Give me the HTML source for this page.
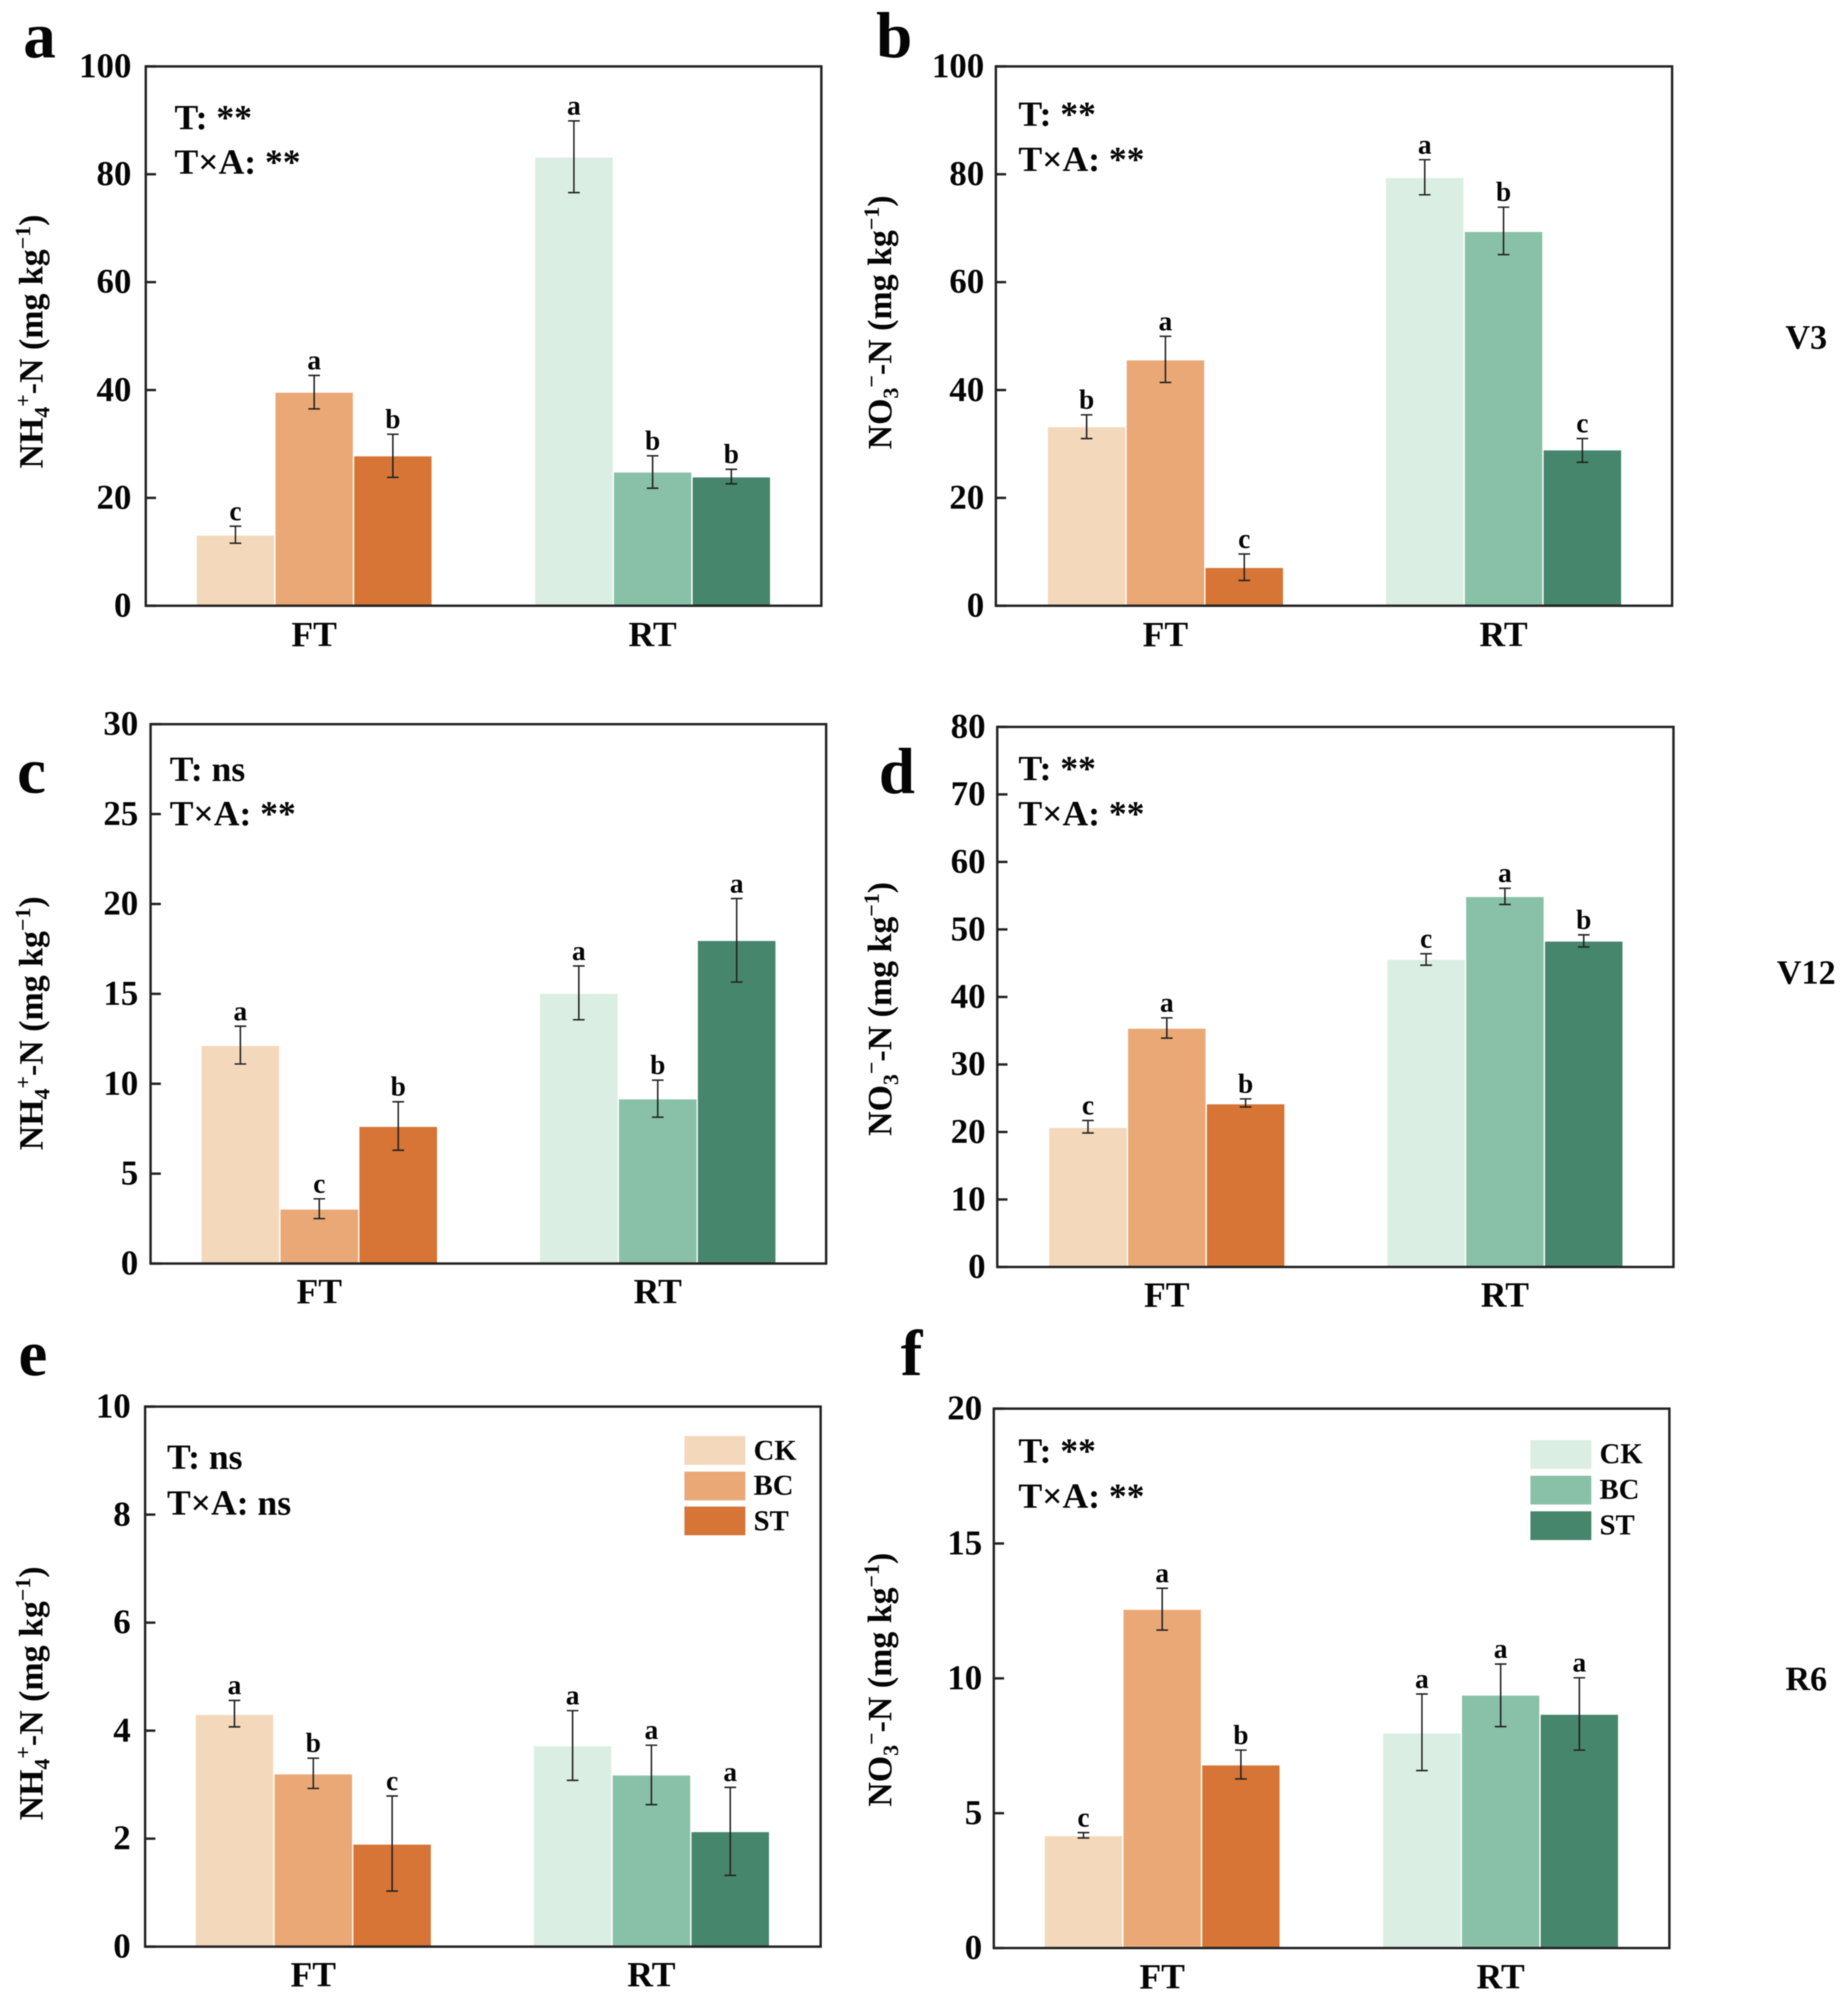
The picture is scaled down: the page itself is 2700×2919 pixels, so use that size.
<!DOCTYPE html>
<html lang="en">
<head>
<meta charset="utf-8">
<title>Soil NH4+-N and NO3--N by tillage and treatment</title>
<style>
html,body{margin:0;padding:0;background:#fff;width:2700px;height:2919px;overflow:hidden}
svg{display:block;filter:blur(.9px)}
text{font-family:"Liberation Serif",serif;font-weight:700;fill:#050505}
</style>
</head>
<body>
<svg id="figure" xmlns="http://www.w3.org/2000/svg" width="2700" height="2919" viewBox="0 0 2700 2919">
  <rect width="2700" height="2919" fill="#fff"/>

  <g font-size="95">
    <text x="34" y="84">a</text>
    <text x="1280" y="84">b</text>
    <text x="25" y="1158">c</text>
    <text x="1284" y="1159">d</text>
    <text x="27" y="2009">e</text>
    <text x="1316" y="2009">f</text>
  </g>

  <g font-size="49.5" text-anchor="middle">
    <text transform="translate(62,499) rotate(-90)">NH<tspan dy="10" font-size="32">4</tspan><tspan dy="-28" font-size="32">+</tspan><tspan dy="18">-N (mg kg</tspan><tspan dy="-18" font-size="32">−1</tspan><tspan dy="18">)</tspan></text>
    <text transform="translate(1302,471) rotate(-90)">NO<tspan dy="10" font-size="32">3</tspan><tspan dy="-28" font-size="32">−</tspan><tspan dy="18">-N (mg kg</tspan><tspan dy="-18" font-size="32">−1</tspan><tspan dy="18">)</tspan></text>
    <text transform="translate(62,1495) rotate(-90)">NH<tspan dy="10" font-size="32">4</tspan><tspan dy="-28" font-size="32">+</tspan><tspan dy="18">-N (mg kg</tspan><tspan dy="-18" font-size="32">−1</tspan><tspan dy="18">)</tspan></text>
    <text transform="translate(1302,1474) rotate(-90)">NO<tspan dy="10" font-size="32">3</tspan><tspan dy="-28" font-size="32">−</tspan><tspan dy="18">-N (mg kg</tspan><tspan dy="-18" font-size="32">−1</tspan><tspan dy="18">)</tspan></text>
    <text transform="translate(62,2474) rotate(-90)">NH<tspan dy="10" font-size="32">4</tspan><tspan dy="-28" font-size="32">+</tspan><tspan dy="18">-N (mg kg</tspan><tspan dy="-18" font-size="32">−1</tspan><tspan dy="18">)</tspan></text>
    <text transform="translate(1302,2454) rotate(-90)">NO<tspan dy="10" font-size="32">3</tspan><tspan dy="-28" font-size="32">−</tspan><tspan dy="18">-N (mg kg</tspan><tspan dy="-18" font-size="32">−1</tspan><tspan dy="18">)</tspan></text>
  </g>

  <g font-size="52">
    <text x="255" y="189">T: **</text>
    <text x="255" y="254">T×A: **</text>
    <text x="1488" y="184">T: **</text>
    <text x="1488" y="250">T×A: **</text>
    <text x="248" y="1141">T: ns</text>
    <text x="248" y="1206">T×A: **</text>
    <text x="1488" y="1140">T: **</text>
    <text x="1488" y="1206">T×A: **</text>
    <text x="244" y="2146">T: ns</text>
    <text x="244" y="2213">T×A: ns</text>
    <text x="1488" y="2137">T: **</text>
    <text x="1488" y="2203">T×A: **</text>
  </g>

  <g font-size="50" text-anchor="middle">
    <text x="2639" y="509">V3</text>
    <text x="2639" y="1437">V12</text>
    <text x="2639" y="2469">R6</text>
  </g>

  <g font-size="42">
    <rect x="1000" y="2098" width="89" height="42" fill="#f4d8bc"/>
    <text x="1101" y="2133">CK</text>
    <rect x="1000" y="2150" width="89" height="42" fill="#eaa876"/>
    <text x="1101" y="2184">BC</text>
    <rect x="1000" y="2201" width="89" height="42" fill="#d67535"/>
    <text x="1101" y="2236">ST</text>
  </g>
  <g font-size="42">
    <rect x="2236" y="2104" width="89" height="42" fill="#dbeee3"/>
    <text x="2337" y="2138">CK</text>
    <rect x="2236" y="2156" width="89" height="42" fill="#89c1a8"/>
    <text x="2337" y="2190">BC</text>
    <rect x="2236" y="2208" width="89" height="42" fill="#46866c"/>
    <text x="2337" y="2242">ST</text>
  </g>
</svg>

<script>
// ---- data ----
const groupNames = ['FT', 'RT'];
const treatmentNames = ['CK', 'BC', 'ST'];

const aTicks = [0, 20, 40, 60, 80, 100];
const aMeans = [13.0, 39.5, 27.7, 83.1, 24.7, 23.8];
const aUpper = [14.75, 42.7, 31.8, 89.9, 27.8, 25.3];
const aLower = [11.6, 36.5, 23.8, 76.6, 21.8, 22.6];
const aLetters = ['c', 'a', 'b', 'a', 'b', 'b'];

const bTicks = [0, 20, 40, 60, 80, 100];
const bMeans = [33.1, 45.5, 7.0, 79.3, 69.3, 28.8];
const bUpper = [35.4, 49.96, 9.6, 82.7, 73.9, 31.0];
const bLower = [31.0, 41.4, 4.7, 76.2, 65.1, 26.6];
const bLetters = ['b', 'a', 'c', 'a', 'b', 'c'];

const cTicks = [0, 5, 10, 15, 20, 25, 30];
const cMeans = [12.1, 3.0, 7.6, 15.0, 9.13, 17.94];
const cUpper = [13.2, 3.6, 9.0, 16.55, 10.2, 20.3];
const cLower = [11.1, 2.5, 6.3, 13.56, 8.14, 15.66];
const cLetters = ['a', 'c', 'b', 'a', 'b', 'a'];

const dTicks = [0, 10, 20, 30, 40, 50, 60, 70, 80];
const dMeans = [20.6, 35.3, 24.1, 45.5, 54.8, 48.2];
const dUpper = [21.7, 36.9, 24.9, 46.4, 56.1, 49.2];
const dLower = [19.85, 33.9, 23.7, 44.7, 53.7, 47.4];
const dLetters = ['c', 'a', 'b', 'c', 'a', 'b'];

const eTicks = [0, 2, 4, 6, 8, 10];
const eMeans = [4.29, 3.19, 1.89, 3.71, 3.17, 2.12];
const eUpper = [4.56, 3.49, 2.79, 4.37, 3.73, 2.95];
const eLower = [4.07, 2.93, 1.03, 3.08, 2.63, 1.32];
const eLetters = ['a', 'b', 'c', 'a', 'a', 'a'];

const fTicks = [0, 5, 10, 15, 20];
const fMeans = [4.15, 12.54, 6.77, 7.96, 9.36, 8.65];
const fUpper = [4.28, 13.34, 7.34, 9.42, 10.53, 10.02];
const fLower = [4.08, 11.79, 6.27, 6.58, 8.21, 7.34];
const fLetters = ['c', 'a', 'b', 'a', 'a', 'a'];

// ---- styling ----
const barColors = ['#f4d8bc', '#eaa876', '#d67535', '#dbeee3', '#89c1a8', '#46866c'];

// ---- panel layout (plot frames and bar-cluster extents) ----
const panels = [
  {id:'a', L:213, R:1200, T:97,   B:885,  gap:21, g1:287.5, g2:782,  ticks:aTicks, means:aMeans, upper:aUpper, lower:aLower, letters:aLetters, g1End:630.5,  labelY:944},
  {id:'b', L:1455,R:2443, T:97,   B:885,  gap:17, g1:1531,  g2:2025, ticks:bTicks, means:bMeans, upper:bUpper, lower:bLower, letters:bLetters, g1End:1874.5, labelY:944},
  {id:'c', L:220, R:1207, T:1058, B:1846, gap:18, g1:294.5, g2:789,  ticks:cTicks, means:cMeans, upper:cUpper, lower:cLower, letters:cLetters, g1End:638.5,  labelY:1904},
  {id:'d', L:1457,R:2445, T:1062, B:1851, gap:17, g1:1533,  g2:2027, ticks:dTicks, means:dMeans, upper:dUpper, lower:dLower, letters:dLetters, g1End:1876.5, labelY:1909},
  {id:'e', L:212, R:1199, T:2055, B:2844, gap:21, g1:286,   g2:780,  ticks:eTicks, means:eMeans, upper:eUpper, lower:eLower, letters:eLetters, g1End:629.5,  labelY:2902},
  {id:'f', L:1452,R:2439, T:2058, B:2846, gap:17, g1:1526.5,g2:2021, ticks:fTicks, means:fMeans, upper:fUpper, lower:fLower, letters:fLetters, g1End:1869.5, labelY:2905}
];

const NS = 'http://www.w3.org/2000/svg';
const svg = document.getElementById('figure');

function make(tag, attrs, parent) {
  const node = document.createElementNS(NS, tag);
  for (const k in attrs) node.setAttribute(k, attrs[k]);
  parent.appendChild(node);
  return node;
}

panels.forEach(function (p) {
  const maxTick = p.ticks[p.ticks.length - 1];
  const yScale = function (v) { return p.B - (v / maxTick) * (p.B - p.T); };
  const slot = (p.g1End - p.g1 + 2) / 3;
  const xBar = function (i) {
    const start = i < 3 ? p.g1 : p.g2;
    return start + (i % 3) * slot;
  };

  const group = make('g', {}, svg);
  
  

  // bars
  p.means.forEach(function (v, i) {
    const bar = make('rect', {
      x: xBar(i), y: yScale(v), width: slot - 2, height: p.B - yScale(v), fill: barColors[i]
    }, group);
    
    
  });

  // error bars and significance letters
  p.means.forEach(function (v, i) {
    const cx = xBar(i) + (slot - 2) / 2;
    const yHi = yScale(p.upper[i]);
    const yLo = yScale(p.lower[i]);
    const err = make('path', {
      d: 'M' + (cx - 8.5) + ' ' + yHi + 'H' + (cx + 8.5) + 'M' + cx + ' ' + yHi + 'V' + yLo + 'M' + (cx - 8.5) + ' ' + yLo + 'H' + (cx + 8.5),
      stroke: '#222', 'stroke-width': 2.2, fill: 'none'
    }, group);
    
    

    const letter = make('text', {
      x: cx, y: yHi - 9, 'text-anchor': 'middle', 'font-size': 40
    }, group);
    
    
    letter.textContent = p.letters[i];
  });

  // frame
  const frame = make('rect', {
    x: p.L, y: p.T, width: p.R - p.L, height: p.B - p.T, fill: 'none', stroke: '#222', 'stroke-width': 3.5
  }, group);
  
  

  // y ticks and labels
  p.ticks.forEach(function (t) {
    const y = yScale(t);
    const tick = make('line', {
      x1: p.L, x2: p.L + 15, y1: y, y2: y, stroke: '#222', 'stroke-width': 3.5
    }, group);
    
    

    const label = make('text', {
      x: p.L - p.gap, y: y + 16, 'text-anchor': 'end', 'font-size': 51
    }, group);
    
    
    label.textContent = t;
  });

  // group labels
  groupNames.forEach(function (name, gi) {
    const cx = xBar(gi * 3) + (slot * 3 - 2) / 2;
    const label = make('text', {
      x: cx, y: p.labelY, 'text-anchor': 'middle', 'font-size': 52
    }, group);
    
    
    label.textContent = name;
  });
});
</script>
</body>
</html>
